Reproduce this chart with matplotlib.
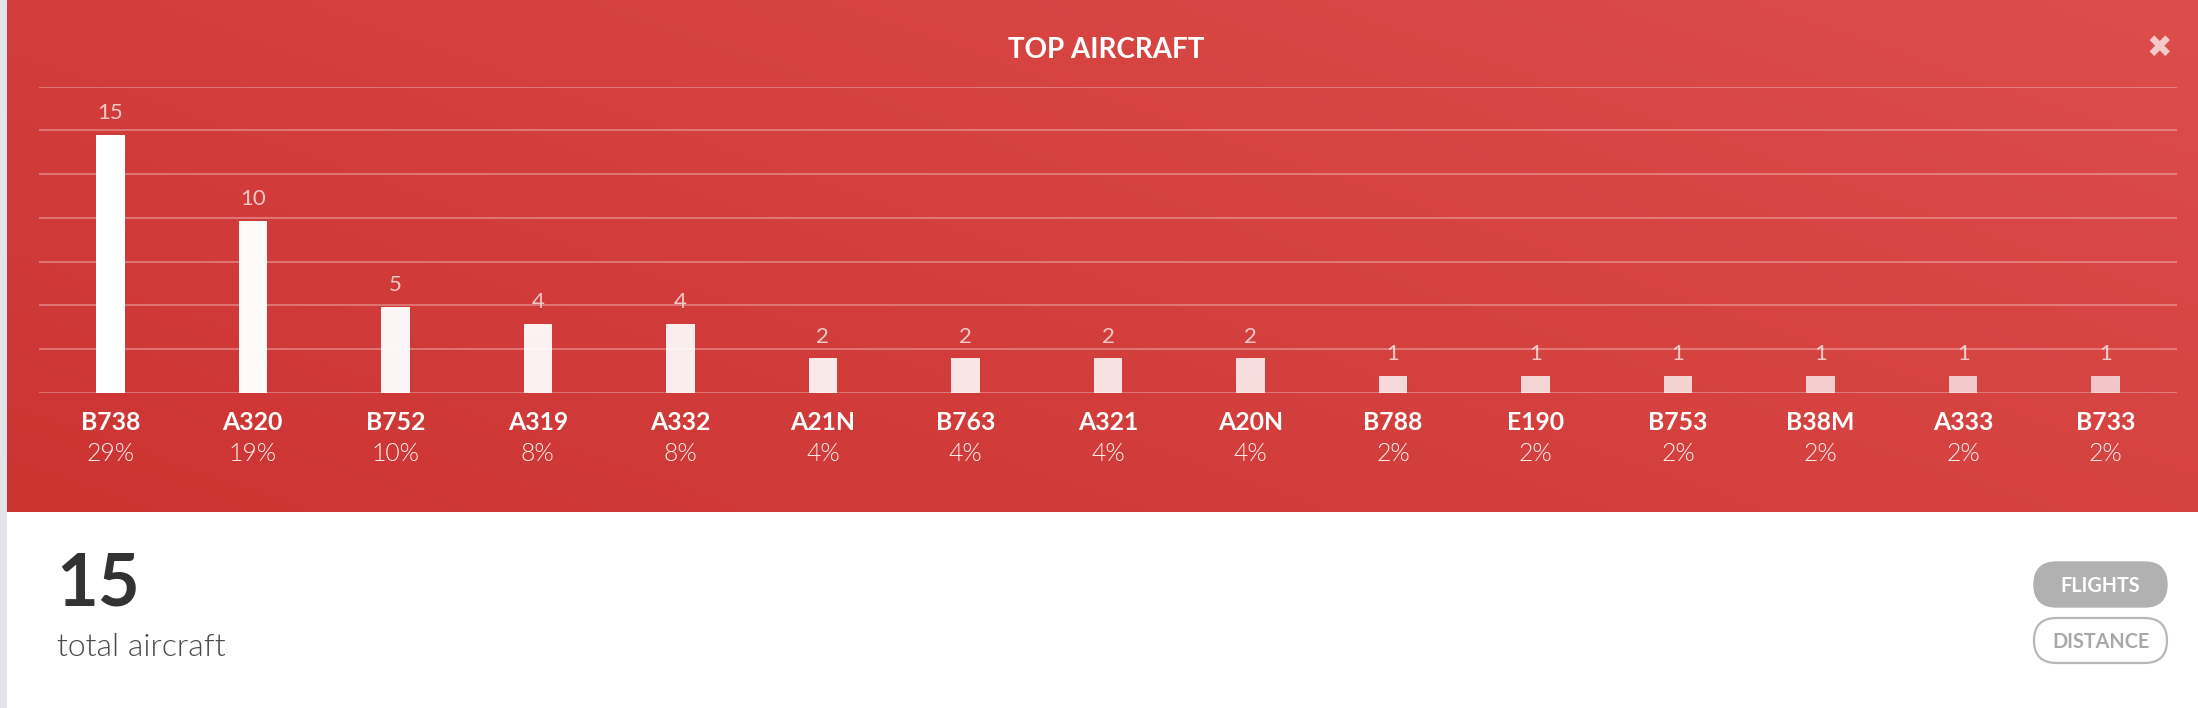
import numpy as np
import matplotlib
matplotlib.use("Agg")
import matplotlib.pyplot as plt
from matplotlib.patches import FancyBboxPatch, Rectangle
from matplotlib.colors import to_rgb

# ---- data ----
aircraft = ["B738", "A320", "B752", "A319", "A332", "A21N", "B763", "A321",
            "A20N", "B788", "E190", "B753", "B38M", "A333", "B733"]
counts = [15, 10, 5, 4, 4, 2, 2, 2, 2, 1, 1, 1, 1, 1, 1]
percents = [29, 19, 10, 8, 8, 4, 4, 4, 4, 2, 2, 2, 2, 2, 2]
total_aircraft = 15
title = "TOP AIRCRAFT"
total_label = "total aircraft"
buttons = ["FLIGHTS", "DISTANCE"]

W, H = 2198, 708
DPI = 100
plt.rcParams['font.family'] = ['Lato', 'DejaVu Sans']

fig = plt.figure(figsize=(W / DPI, H / DPI), dpi=DPI)
fig.patch.set_facecolor("white")

# background axes in pixel coordinates (y down)
bg = fig.add_axes([0, 0, 1, 1])
bg.set_xlim(0, W)
bg.set_ylim(H, 0)
bg.axis("off")

# red gradient panel
panel_top, panel_bot, panel_left = 0, 512, 7
c_bl = np.array(to_rgb("#cc3432"))
c_tr = np.array(to_rgb("#dc4d4b"))
nx, ny = 200, 60
xx, yy = np.meshgrid(np.linspace(0, 1, nx), np.linspace(0, 1, ny))
t = (xx * 0.6 + (1 - yy) * 0.4)  # yy=0 at top
grad = c_bl[None, None, :] * (1 - t[..., None]) + c_tr[None, None, :] * t[..., None]
bg.imshow(grad, extent=[panel_left, W, panel_bot, panel_top], aspect="auto",
          interpolation="bilinear", zorder=0)
bg.add_patch(Rectangle((0, 0), panel_left, H, facecolor="#e3e5ea",
                       edgecolor="none", zorder=1))

# title and close mark
bg.text(1106, 50, title, color="white", fontsize=20, fontweight="bold",
        ha="center", va="center", zorder=3)
bg.text(2159, 48, "\u2716", color="#f3c9c9", fontsize=22, ha="center",
        va="center", family=["DejaVu Sans"], zorder=3)

# bottom section
bg.text(56, 585, str(total_aircraft), color="#333333", fontsize=52,
        fontweight="bold", ha="left", va="center", zorder=3)
bg.text(57, 648, total_label, color="#4a4a4a", fontsize=23,
        fontweight=300, ha="left", va="center", zorder=3)

# buttons
bx0, bx1 = 2034, 2167
for i, (label, y0) in enumerate(zip(buttons, [562, 618])):
    hgt = 45
    if i == 0:
        p = FancyBboxPatch((bx0, y0), bx1 - bx0, hgt,
                           boxstyle="round,pad=0,rounding_size=22.5",
                           facecolor="#b1b1b1", edgecolor="#b1b1b1",
                           linewidth=1, zorder=2)
        tc = "white"
    else:
        p = FancyBboxPatch((bx0, y0), bx1 - bx0, hgt,
                           boxstyle="round,pad=0,rounding_size=22.5",
                           facecolor="white", edgecolor="#b8b8b8",
                           linewidth=1.6, zorder=2)
        tc = "#a8a8a8"
    bg.add_patch(p)
    bg.text((bx0 + bx1) / 2, y0 + hgt / 2 + 1, label, color=tc, fontsize=14.2,
            fontweight="bold", ha="center", va="center", zorder=3)

# chart axes
gx0, gx1 = 39, 2177
base_y, top_y = 392.7, 86.7
ymax = 17.8
ax = fig.add_axes([gx0 / W, (H - base_y) / H, (gx1 - gx0) / W, (base_y - top_y) / H])
ax.patch.set_alpha(0)
ax.set_xlim(-0.5, len(aircraft) - 0.5)
ax.set_ylim(0, ymax)
for s in ax.spines.values():
    s.set_visible(False)
ax.set_xticks([])
ax.set_yticks([])

for gy in np.linspace(0, ymax, 8):
    ax.axhline(gy, color="white", alpha=0.3, linewidth=1.4, zorder=1)

x = np.arange(len(aircraft))
n = len(aircraft)
for i, (xi, v) in enumerate(zip(x, counts)):
    alpha = 1.0 - 0.3 * i / (n - 1)
    ax.bar(xi, v, width=0.2, color="white", alpha=alpha, zorder=2, linewidth=0)
    ax.annotate(str(v), (xi, v), xytext=(0, 15.5), textcoords="offset points",
                ha="center", va="center", color="white", alpha=0.72,
                fontsize=16, zorder=3)
    ax.annotate(aircraft[i], (xi, 0), xytext=(0, -(423 - base_y) * 72 / DPI),
                textcoords="offset points", ha="center", va="center",
                color="white", fontsize=17.8, fontweight="bold", zorder=3,
                annotation_clip=False)
    ax.annotate(f"{percents[i]}%", (xi, 0), xytext=(0, -(454 - base_y) * 72 / DPI),
                textcoords="offset points", ha="center", va="center",
                color="white", alpha=0.92, fontsize=17.8, fontweight=300,
                zorder=3, annotation_clip=False)

fig.savefig("out.png", dpi=DPI, facecolor=fig.get_facecolor())
